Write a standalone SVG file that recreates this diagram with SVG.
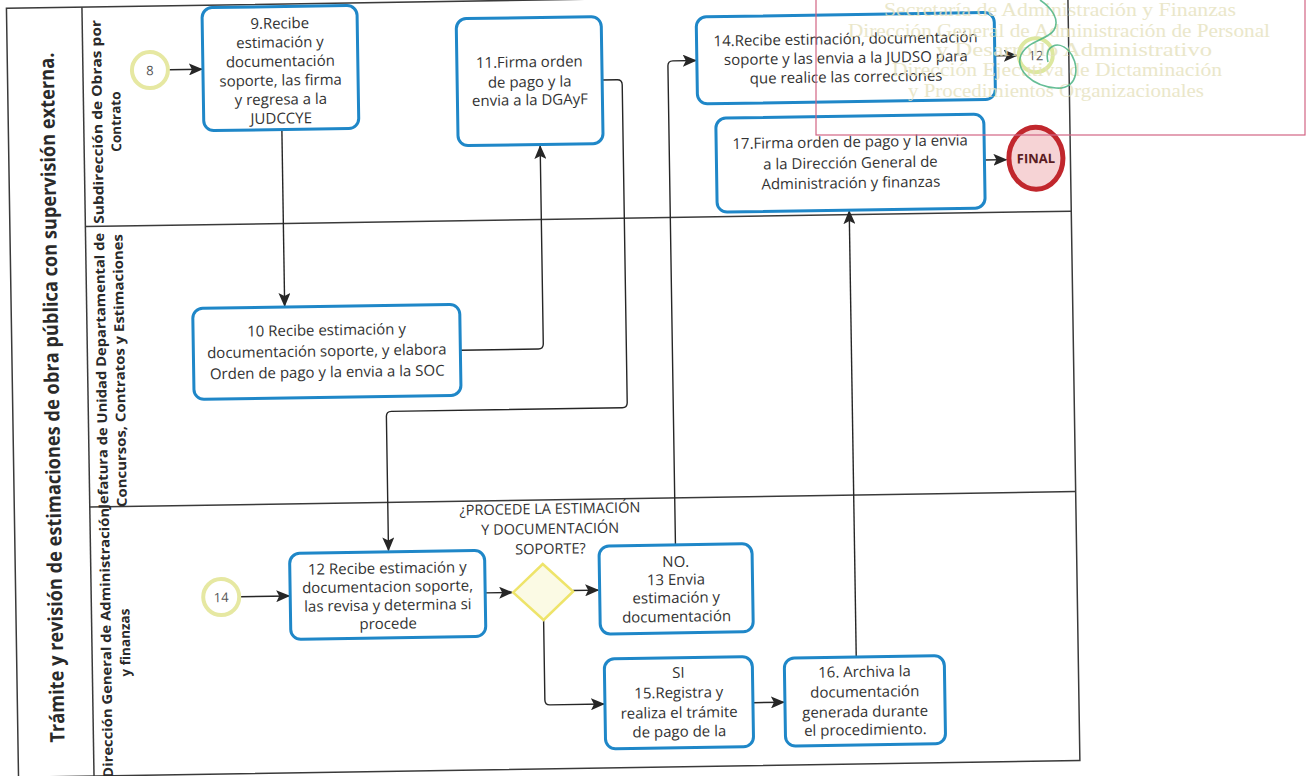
<svg xmlns="http://www.w3.org/2000/svg" width="1307" height="776" viewBox="0 0 1307 776">
<defs>
<style>
.frame{fill:none;stroke:#3a3a3a;stroke-width:1.5}
.task{fill:#fff;stroke:#1f87c8;stroke-width:3}
.t{font-family:"Open Sans","Noto Sans",sans-serif;font-size:15px;fill:#333;text-anchor:middle}
.lane{font-family:"Open Sans","Noto Sans",sans-serif;font-size:13.5px;font-weight:bold;fill:#2a2a2a;text-anchor:middle}
.title{font-family:"Open Sans","Noto Sans",sans-serif;font-size:20px;font-weight:bold;fill:#2a2a2a;text-anchor:middle}
.ev{fill:#fff;stroke:#e6e8a2;stroke-width:4}
.evt{font-family:"Open Sans","Noto Sans",sans-serif;font-size:13px;fill:#555;text-anchor:middle}
.c{fill:none;stroke:#262626;stroke-width:1.4;marker-end:url(#ah)}
.stamp{font-family:"Liberation Serif",serif;font-size:19px;fill:#e6e2bd;text-anchor:middle;opacity:0.8}
</style>
<marker id="ah" markerUnits="userSpaceOnUse" markerWidth="14" markerHeight="12" refX="13" refY="6" orient="auto">
<path d="M0,0 L14,6 L0,12 L3,6 z" fill="#262626"/>
</marker>
</defs>
<rect x="0" y="0" width="1307" height="776" fill="#fff"/>
<g transform="rotate(-0.9 540 390)">
<g id="pool">
<rect class="frame" x="12.5" y="0" width="1061.5" height="769"/>
<line class="frame" x1="88" y1="0" x2="88" y2="769"/>
<line class="frame" x1="88" y1="219.5" x2="1074" y2="219.5"/>
<line class="frame" x1="88" y1="500" x2="1074" y2="500"/>
<text class="title" transform="translate(59,390) rotate(-90)" textLength="690" lengthAdjust="spacingAndGlyphs">Trámite y revisión de estimaciones de obra pública con supervisión externa.</text>
</g>
<g id="lane1">
<text class="lane" transform="translate(106.5,115) rotate(-90)" textLength="204" lengthAdjust="spacingAndGlyphs">Subdirección de Obras por</text>
<text class="lane" transform="translate(125,115) rotate(-90)">Contrato</text>
</g>
<g id="lane2">
<text class="lane" transform="translate(106.5,364) rotate(-90)" textLength="276" lengthAdjust="spacingAndGlyphs">Jefatura de Unidad Departamental de</text>
<text class="lane" transform="translate(125,364) rotate(-90)" textLength="273" lengthAdjust="spacingAndGlyphs">Concursos, Contratos y Estimaciones</text>
</g>
<g id="lane3">
<text class="lane" transform="translate(107,636) rotate(-90)" textLength="270" lengthAdjust="spacingAndGlyphs">Dirección General de Administración</text>
<text class="lane" transform="translate(126,636) rotate(-90)">y finanzas</text>
</g>

<g id="connectors">
<path class="c" d="M174 64 H207"/>
<path class="c" d="M286 126 V302"/>
<path class="c" d="M461 349 H539 Q544 349 544 344 V146"/>
<path class="c" d="M607 81 H622 Q627 81 627 86 V404 Q627 409 622 409 H391 Q386 409 386 414 V548"/>
<path class="c" d="M237 592 H286"/>
<path class="c" d="M482 592 H509"/>
<path class="c" d="M570 591 H595"/>
<path class="c" d="M673 546 V68 Q673 63 678 63 H701"/>
<path class="c" d="M540 620 V700 Q540 705 545 705 H599"/>
<path class="c" d="M748 706 H779"/>
<path class="c" d="M852 661 V216"/>
<path class="c" d="M1000 63 H1022"/>
<path class="c" d="M988 167 H1010"/>
</g>

<g id="start8">
<circle class="ev" cx="155" cy="64" r="18"/>
<text class="evt" x="155" y="69">8</text>
</g>
<g id="task9">
<rect class="task" x="208" y="2.5" width="155" height="123" rx="10"/>
<text class="t" x="285.5" y="24.5">9.Recibe</text>
<text class="t" x="285.5" y="43.5">estimación y</text>
<text class="t" x="285.5" y="62.5">documentación</text>
<text class="t" x="285.5" y="81.5">soporte, las firma</text>
<text class="t" x="285.5" y="100.5">y regresa a la</text>
<text class="t" x="285.5" y="119.5">JUDCCYE</text>
</g>
<g id="task10">
<rect class="task" x="194" y="303" width="267" height="91" rx="10"/>
<text class="t" x="327.5" y="332">10 Recibe estimación y</text>
<text class="t" x="327.5" y="353">documentación soporte, y elabora</text>
<text class="t" x="327.5" y="374">Orden de pago y la envia a la SOC</text>
</g>
<g id="task11">
<rect class="task" x="462" y="17.5" width="145" height="127" rx="10"/>
<text class="t" x="534.5" y="67">11.Firma orden</text>
<text class="t" x="534.5" y="87">de pago y la</text>
<text class="t" x="534.5" y="105">envia a la DGAyF</text>
</g>
<g id="task14">
<rect class="task" x="702" y="19.5" width="298" height="87" rx="10"/>
<text class="t" x="851" y="49">14.Recibe estimación, documentación</text>
<text class="t" x="851" y="68">soporte y las envia a la JUDSO para</text>
<text class="t" x="851" y="87">que realice las correcciones</text>
</g>
<g id="link12">
<circle class="ev" cx="1041" cy="63" r="17" style="stroke:#dde8a0"/>
<text class="evt" x="1041" y="68">12</text>
</g>
<g id="task17">
<rect class="task" x="720" y="121" width="268" height="94" rx="10"/>
<text class="t" x="854" y="152">17.Firma orden de pago y la envia</text>
<text class="t" x="854" y="173">a la Dirección General de</text>
<text class="t" x="854" y="193">Administración y finanzas</text>
</g>
<g id="final">
<ellipse cx="1039.5" cy="166" rx="27" ry="31" fill="#f6d3d5" stroke="#c1272d" stroke-width="5"/>
<text x="1039.5" y="171" font-family="'Open Sans','Noto Sans',sans-serif" font-size="13" font-weight="bold" fill="#5a1c22" text-anchor="middle">FINAL</text>
</g>
<g id="start14">
<circle class="ev" cx="218" cy="592" r="18"/>
<text class="evt" x="218" y="597">14</text>
</g>
<g id="task12">
<rect class="task" x="287" y="549.5" width="195" height="86" rx="10"/>
<text class="t" x="384.5" y="571">12 Recibe estimación y</text>
<text class="t" x="384.5" y="589.5">documentacion soporte,</text>
<text class="t" x="384.5" y="608">las revisa y determina si</text>
<text class="t" x="384.5" y="626.5">procede</text>
</g>
<g id="gateway">
<polygon points="540,564 570,592 540,620 510,592" fill="#fbfae4" stroke="#eee46a" stroke-width="2.5"/>
<text class="t" x="548" y="514" style="font-size:14.5px">¿PROCEDE LA ESTIMACIÓN</text>
<text class="t" x="548" y="534" style="font-size:14.5px">Y DOCUMENTACIÓN</text>
<text class="t" x="548" y="554" style="font-size:14.5px">SOPORTE?</text>
</g>
<g id="task13">
<rect class="task" x="596.5" y="547" width="153" height="88" rx="10"/>
<text class="t" x="673" y="569">NO.</text>
<text class="t" x="673" y="587">13 Envia</text>
<text class="t" x="673" y="605">estimación y</text>
<text class="t" x="673" y="624">documentación</text>
</g>
<g id="task15">
<rect class="task" x="600" y="660" width="148" height="90" rx="10"/>
<text class="t" x="674" y="680">SI</text>
<text class="t" x="674" y="700">15.Registra y</text>
<text class="t" x="674" y="720">realiza el trámite</text>
<text class="t" x="674" y="739">de pago de la</text>
</g>
<g id="task16">
<rect class="task" x="780" y="662" width="160" height="88" rx="10"/>
<text class="t" x="860" y="682">16. Archiva la</text>
<text class="t" x="860" y="702">documentación</text>
<text class="t" x="860" y="722">generada durante</text>
<text class="t" x="860" y="740">el procedimiento.</text>
</g>
</g>

<g id="stamp">
<rect x="816" y="-2" width="489" height="137" fill="none" stroke="#d26584" stroke-width="1.2"/>
<text class="stamp" x="1060" y="16" textLength="352" lengthAdjust="spacingAndGlyphs">Secretaría de Administración  y Finanzas</text>
<text class="stamp" x="1059" y="37" textLength="422" lengthAdjust="spacingAndGlyphs">Dirección General de Administración de Personal</text>
<text class="stamp" x="1074" y="56" textLength="276" lengthAdjust="spacingAndGlyphs">y Desarrollo Administrativo</text>
<text class="stamp" x="1057" y="76" textLength="330" lengthAdjust="spacingAndGlyphs">Dirección Ejecutiva de Dictaminación</text>
<text class="stamp" x="1056" y="97" textLength="296" lengthAdjust="spacingAndGlyphs">y Procedimientos Organizacionales</text>
<path d="M1040 0 C1052 8 1060 20 1054 30 C1048 40 1028 40 1021 55 C1015 70 1032 86 1056 88 C1080 90 1080 62 1068 50 C1058 40 1044 46 1048 62" fill="none" stroke="#3fae7c" stroke-width="1.6" opacity="0.8"/>
</g>
</svg>
